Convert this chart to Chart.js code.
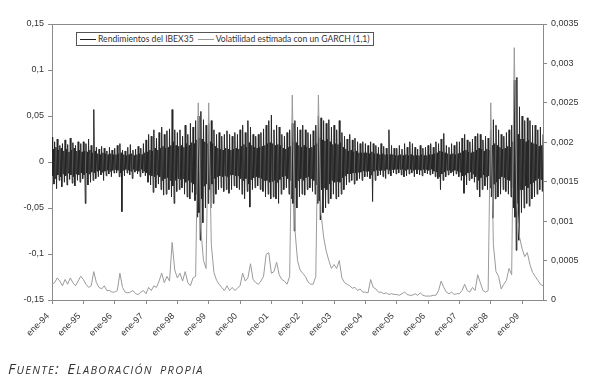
<!DOCTYPE html>
<html>
<head>
<meta charset="utf-8">
<script src="https://cdn.jsdelivr.net/npm/chart.js@4.4.0/dist/chart.umd.min.js"></script>
<style>
  body { margin: 0; background: #fff; }
  #wrap { position: relative; width: 600px; height: 384px; }
  #legend {
    position: absolute; left: 76px; top: 32px; height: 12px;
    border: 1px solid #555; background: #fff; padding: 0 3px 0 3px;
    font: 8.6px Lato, sans-serif; color: #333; line-height: 12px;
    display: flex; align-items: center; white-space: nowrap;
  }
  #legend .swatch { display: inline-block; width: 16px; height: 0; margin-right: 2px; }
  #footer {
    position: absolute; left: 8px; top: 358px;
    font: italic 15px 'Open Sans', sans-serif; font-variant: small-caps; color: #333;
    letter-spacing: 1.3px; word-spacing: 2px;
  }
</style>
</head>
<body>
<div id="wrap">
  <canvas id="chart"></canvas>
  <div id="legend">
    <span class="swatch" style="border-top:1px solid #222"></span>Rendimientos del IBEX35
    <span class="swatch" style="border-top:1px solid #999;margin-left:4px"></span>Volatilidad estimada con un GARCH (1,1)
  </div>
  <div id="footer">Fuente: Elaboración propia</div>
</div>
<script>
// one tick label per January, months counted from ene-94
const yearLabels = ['ene-94', 'ene-95', 'ene-96', 'ene-97', 'ene-98', 'ene-99', 'ene-00', 'ene-01',
    'ene-02', 'ene-03', 'ene-04', 'ene-05', 'ene-06', 'ene-07', 'ene-08', 'ene-09'];

// monthly largest positive return
const retHigh = [
    0.027, 0.022, 0.025, 0.018, 0.02, 0.024, 0.019, 0.026, 0.021, 0.018, 0.022, 0.02,
    0.022, 0.02, 0.025, 0.018, 0.057, 0.016, 0.014, 0.017, 0.015, 0.012, 0.016, 0.013,
    0.015, 0.018, 0.02, 0.013, 0.012, 0.016, 0.019, 0.013, 0.014, 0.017, 0.015, 0.02,
    0.024, 0.03, 0.028, 0.035, 0.026, 0.032, 0.038, 0.03, 0.034, 0.036, 0.057, 0.035,
    0.032, 0.035, 0.028, 0.04, 0.03, 0.042, 0.038, 0.045, 0.05, 0.055, 0.046, 0.04,
    0.042, 0.045, 0.035, 0.03, 0.032, 0.028, 0.03, 0.034, 0.03, 0.028, 0.032, 0.03,
    0.035, 0.04, 0.032, 0.045, 0.038, 0.03, 0.028, 0.03, 0.032, 0.036, 0.04, 0.045,
    0.051, 0.035, 0.04, 0.038, 0.03, 0.028, 0.032, 0.035, 0.042, 0.045, 0.038, 0.035,
    0.04, 0.035, 0.032, 0.03, 0.034, 0.04, 0.05, 0.048, 0.045, 0.042, 0.046, 0.038,
    0.04, 0.035, 0.045, 0.032, 0.028, 0.025, 0.03, 0.024, 0.026, 0.022, 0.02, 0.022,
    0.02, 0.018, 0.022, 0.02, 0.018, 0.016, 0.02, 0.017, 0.015, 0.035, 0.018, 0.015,
    0.015, 0.018, 0.014, 0.02, 0.016, 0.022, 0.02, 0.016, 0.014, 0.018, 0.015, 0.016,
    0.018, 0.02, 0.016, 0.022, 0.02, 0.025, 0.031, 0.018, 0.016, 0.02, 0.018, 0.022,
    0.022, 0.026, 0.03, 0.024, 0.022, 0.025, 0.028, 0.031, 0.03, 0.024, 0.028, 0.026,
    0.035, 0.046, 0.04, 0.035, 0.03, 0.028, 0.032, 0.035, 0.04, 0.089, 0.092, 0.06,
    0.05, 0.045, 0.048, 0.045, 0.04, 0.04, 0.035, 0.038, 0.03
];

// monthly largest negative return
const retLow = [
    -0.024, -0.029, -0.02, -0.027, -0.022, -0.025, -0.019, -0.023, -0.026, -0.02, -0.022, -0.018,
    -0.045, -0.025, -0.022, -0.02, -0.018, -0.016, -0.014, -0.02, -0.015, -0.013, -0.016, -0.012,
    -0.012, -0.016, -0.054, -0.015, -0.012, -0.014, -0.018, -0.011, -0.013, -0.016, -0.012, -0.015,
    -0.022, -0.025, -0.033, -0.028, -0.024, -0.03, -0.036, -0.035, -0.03, -0.038, -0.045, -0.032,
    -0.03, -0.028, -0.035, -0.038, -0.04, -0.033, -0.042, -0.06, -0.085, -0.066, -0.05, -0.045,
    -0.05, -0.045, -0.035, -0.03, -0.028, -0.032, -0.03, -0.034, -0.03, -0.026, -0.028, -0.03,
    -0.035, -0.04, -0.032, -0.049, -0.03, -0.028, -0.026, -0.03, -0.032, -0.038, -0.035, -0.04,
    -0.038, -0.04, -0.045, -0.035, -0.03, -0.028, -0.035, -0.04, -0.075, -0.05, -0.038, -0.035,
    -0.036, -0.03, -0.028, -0.032, -0.035, -0.045, -0.063, -0.055, -0.05, -0.045, -0.04, -0.035,
    -0.04, -0.038, -0.035, -0.03, -0.025, -0.022, -0.02, -0.024, -0.02, -0.018, -0.02, -0.016,
    -0.016, -0.018, -0.043, -0.02, -0.015, -0.014, -0.016, -0.018, -0.013, -0.015, -0.012, -0.013,
    -0.012, -0.014, -0.016, -0.015, -0.013, -0.012, -0.016, -0.013, -0.014, -0.015, -0.012, -0.013,
    -0.014, -0.013, -0.016, -0.018, -0.03, -0.02, -0.016, -0.014, -0.012, -0.015, -0.013, -0.016,
    -0.02, -0.034, -0.025, -0.02, -0.018, -0.022, -0.03, -0.038, -0.03, -0.026, -0.03, -0.028,
    -0.061, -0.04, -0.038, -0.035, -0.03, -0.032, -0.035, -0.038, -0.05, -0.096, -0.085, -0.055,
    -0.05, -0.045, -0.048, -0.04, -0.038, -0.035, -0.03, -0.032, -0.025
];

// monthly top edge of the dense dark band of returns
const coreUp = [
    0.014, 0.016, 0.013, 0.015, 0.012, 0.014, 0.011, 0.013, 0.015, 0.012, 0.013, 0.011,
    0.012, 0.011, 0.013, 0.01, 0.012, 0.009, 0.008, 0.01, 0.009, 0.008, 0.009, 0.008,
    0.008, 0.009, 0.01, 0.008, 0.007, 0.008, 0.009, 0.007, 0.008, 0.009, 0.008, 0.01,
    0.011, 0.013, 0.012, 0.015, 0.013, 0.015, 0.017, 0.015, 0.016, 0.018, 0.022, 0.018,
    0.017, 0.018, 0.016, 0.02, 0.018, 0.021, 0.02, 0.024, 0.026, 0.025, 0.022, 0.02,
    0.022, 0.02, 0.017, 0.015, 0.014, 0.013, 0.015, 0.014, 0.013, 0.014, 0.015, 0.014,
    0.017, 0.019, 0.016, 0.021, 0.018, 0.016, 0.015, 0.016, 0.017, 0.018, 0.02, 0.021,
    0.02, 0.018, 0.019, 0.018, 0.015, 0.014, 0.016, 0.017, 0.022, 0.021, 0.018, 0.016,
    0.018, 0.016, 0.015, 0.016, 0.018, 0.02, 0.026, 0.024, 0.023, 0.025, 0.022, 0.019,
    0.02, 0.019, 0.021, 0.016, 0.014, 0.012, 0.013, 0.011, 0.012, 0.01, 0.01, 0.01,
    0.01, 0.009, 0.011, 0.009, 0.009, 0.008, 0.009, 0.008, 0.008, 0.008, 0.008, 0.007,
    0.007, 0.008, 0.007, 0.008, 0.007, 0.008, 0.007, 0.007, 0.007, 0.008, 0.007, 0.007,
    0.008, 0.008, 0.009, 0.01, 0.012, 0.011, 0.01, 0.009, 0.008, 0.009, 0.008, 0.009,
    0.01, 0.012, 0.013, 0.011, 0.01, 0.011, 0.013, 0.015, 0.014, 0.012, 0.014, 0.013,
    0.018, 0.02, 0.018, 0.016, 0.014, 0.015, 0.017, 0.016, 0.022, 0.035, 0.03, 0.025,
    0.025, 0.022, 0.024, 0.021, 0.02, 0.019, 0.017, 0.018, 0.016
];

// monthly bottom edge of the dense dark band (as a positive depth)
const coreDown = [
    0.015, 0.018, 0.014, 0.016, 0.013, 0.015, 0.012, 0.014, 0.016, 0.013, 0.014, 0.012,
    0.014, 0.012, 0.013, 0.011, 0.012, 0.01, 0.009, 0.011, 0.01, 0.009, 0.01, 0.009,
    0.008, 0.009, 0.012, 0.009, 0.008, 0.009, 0.01, 0.008, 0.009, 0.01, 0.008, 0.01,
    0.012, 0.014, 0.015, 0.016, 0.014, 0.016, 0.02, 0.018, 0.017, 0.02, 0.026, 0.02,
    0.018, 0.019, 0.018, 0.022, 0.02, 0.022, 0.024, 0.035, 0.055, 0.04, 0.026, 0.024,
    0.03, 0.024, 0.018, 0.016, 0.015, 0.016, 0.015, 0.016, 0.014, 0.014, 0.015, 0.015,
    0.018, 0.02, 0.018, 0.024, 0.019, 0.017, 0.016, 0.017, 0.018, 0.02, 0.02, 0.022,
    0.021, 0.02, 0.022, 0.019, 0.016, 0.015, 0.018, 0.02, 0.045, 0.028, 0.02, 0.018,
    0.02, 0.017, 0.016, 0.018, 0.02, 0.025, 0.042, 0.03, 0.028, 0.03, 0.024, 0.02,
    0.022, 0.021, 0.022, 0.017, 0.015, 0.013, 0.013, 0.012, 0.012, 0.011, 0.011, 0.01,
    0.01, 0.01, 0.014, 0.01, 0.009, 0.009, 0.009, 0.009, 0.008, 0.009, 0.008, 0.008,
    0.008, 0.008, 0.008, 0.009, 0.008, 0.008, 0.009, 0.008, 0.008, 0.009, 0.008, 0.008,
    0.009, 0.008, 0.01, 0.011, 0.016, 0.013, 0.011, 0.009, 0.009, 0.01, 0.009, 0.01,
    0.011, 0.015, 0.014, 0.012, 0.011, 0.013, 0.016, 0.02, 0.017, 0.014, 0.016, 0.015,
    0.038, 0.024, 0.022, 0.018, 0.016, 0.017, 0.019, 0.02, 0.028, 0.06, 0.045, 0.03,
    0.03, 0.026, 0.028, 0.024, 0.022, 0.02, 0.018, 0.019, 0.017
];

// GARCH(1,1) conditional variance, monthly reading
const garchVol = [
    0.0002, 0.00022, 0.00028, 0.00024, 0.00018, 0.00026, 0.0002, 0.00028, 0.00022, 0.00018, 0.00024, 0.0003,
    0.00026, 0.0002, 0.00016, 0.00018, 0.00036, 0.00022, 0.00016, 0.00014, 0.00018, 0.00012, 0.00012, 0.0001,
    0.0001, 0.00012, 0.00034, 0.00016, 0.0001, 0.00009, 0.0001, 0.00012, 0.00008, 0.00007, 0.0001, 0.00012,
    0.00008, 0.00016, 0.00012, 0.00018, 0.00016, 0.00024, 0.00034, 0.00022, 0.0003, 0.00024, 0.00073, 0.00038,
    0.00028, 0.00034, 0.00024, 0.00036, 0.00022, 0.00018, 0.00028, 0.0003, 0.0025, 0.0009, 0.0005, 0.0004,
    0.0025, 0.0007, 0.00035, 0.00025, 0.0002, 0.00016, 0.00012, 0.00018, 0.00012, 0.00016, 0.00012, 0.00015,
    0.00018, 0.00034, 0.00024, 0.00028, 0.00046, 0.00026, 0.00022, 0.0002, 0.00024, 0.0003, 0.00058, 0.0006,
    0.00034, 0.00036, 0.00048, 0.00032, 0.00026, 0.00024, 0.0002, 0.0003, 0.0026, 0.0009, 0.0005, 0.00038,
    0.00034, 0.0003, 0.00023, 0.0002, 0.0002, 0.0003, 0.0026, 0.0011, 0.0008, 0.00062, 0.0005, 0.0004,
    0.00045, 0.0004, 0.0005, 0.00028, 0.00022, 0.0002, 0.00018, 0.00015, 0.00016, 0.00012, 0.00014, 0.0001,
    0.0001, 0.00009, 0.00026, 0.00016, 0.00014, 0.0001, 0.0001, 0.00008, 0.00009, 0.00007, 0.00008, 0.00007,
    0.00007, 0.00006, 0.00008, 0.0001, 0.00007, 0.00006, 0.00006, 0.00008, 0.00006, 0.00009, 0.00006, 0.00005,
    0.00005, 0.00005, 0.00006, 0.00006, 0.00012, 0.00024, 0.00016, 0.0001, 0.00008, 0.0001, 0.00007, 0.00008,
    0.00008, 0.00012, 0.0002, 0.00012, 0.0001, 0.00016, 0.00012, 0.00032, 0.00022, 0.00012, 0.0001, 0.00012,
    0.0025, 0.0007, 0.00036, 0.0003, 0.00014, 0.0002, 0.00025, 0.0004, 0.00032, 0.0032, 0.0012, 0.0008,
    0.00065, 0.00055, 0.0006, 0.00045, 0.00035, 0.0003, 0.00025, 0.0002, 0.00018
];

const lastMonth = garchVol.length - 1;
const yearTicks = yearLabels.map((_, i) => i * 12);

// each month: spike up, band bottom, band top, spike down
const returnPoints = [];
retHigh.forEach((hi, m) => {
    returnPoints.push({ x: m, y: hi });
    returnPoints.push({ x: m + 0.25, y: -coreDown[m] });
    returnPoints.push({ x: m + 0.5, y: coreUp[m] });
    returnPoints.push({ x: m + 0.75, y: retLow[m] });
});
const volPoints = garchVol.map((v, m) => ({ x: m, y: v }));

const comma = (v, digits) => {
    const r = Math.round(v * Math.pow(10, digits)) / Math.pow(10, digits);
    return String(r).replace('.', ',');
};

const tickFont = { family: "'Liberation Sans', Arial, sans-serif", size: 9 };

const framePlugin = {
    id: 'frame',
    afterDraw(chart) {
        const { ctx, chartArea } = chart;
        ctx.save();
        ctx.strokeStyle = '#8a8a8a';
        ctx.lineWidth = 1;
        ctx.beginPath();
        ctx.moveTo(chartArea.left, Math.round(chartArea.top) + 0.5);
        ctx.lineTo(chartArea.right, Math.round(chartArea.top) + 0.5);
        ctx.stroke();
        ctx.restore();
    }
};

new Chart(document.getElementById('chart'), {
    type: 'line',
    data: {
        datasets: [
            {
                label: 'Volatilidad estimada con un GARCH (1,1)',
                data: volPoints,
                yAxisID: 'y2',
                borderColor: '#9a9a9a',
                borderWidth: 1,
                pointRadius: 0,
                tension: 0,
                order: 0
            },
            {
                label: 'Rendimientos del IBEX35',
                data: returnPoints,
                yAxisID: 'y',
                borderColor: '#262626',
                borderWidth: 1,
                pointRadius: 0,
                tension: 0,
                order: 1
            }
        ]
    },
    options: {
        responsive: true,
        maintainAspectRatio: false,
        animation: false,
        layout: { padding: { top: 24 } },
        plugins: {
            legend: { display: false },
            tooltip: { enabled: false }
        },
        scales: {
            x: {
                type: 'linear',
                min: 0,
                max: lastMonth,
                afterBuildTicks: (scale) => { scale.ticks = yearTicks.map(v => ({ value: v })); },
                afterFit: (scale) => { scale.height = 84; },
                ticks: {
                    callback: (v) => yearLabels[Math.round(v / 12)],
                    minRotation: 45,
                    maxRotation: 45,
                    font: tickFont,
                    color: '#333',
                    padding: 7,
                    labelOffset: -4
                },
                grid: { drawOnChartArea: false, tickLength: 4, color: '#8a8a8a' },
                border: { color: '#8a8a8a' }
            },
            y: {
                position: 'left',
                min: -0.15,
                max: 0.15,
                afterFit: (scale) => { scale.width = 52; },
                ticks: {
                    stepSize: 0.05,
                    callback: (v) => comma(v, 2),
                    font: tickFont,
                    color: '#333',
                    padding: 4
                },
                grid: { drawOnChartArea: false, tickLength: 4, color: '#8a8a8a' },
                border: { color: '#8a8a8a' }
            },
            y2: {
                position: 'right',
                min: 0,
                max: 0.0035,
                afterFit: (scale) => { scale.width = 57; },
                ticks: {
                    stepSize: 0.0005,
                    callback: (v) => comma(v, 4),
                    font: tickFont,
                    color: '#333',
                    padding: 4
                },
                grid: { drawOnChartArea: false, tickLength: 4, color: '#8a8a8a' },
                border: { color: '#8a8a8a' }
            }
        }
    },
    plugins: [framePlugin]
});
</script>
</body>
</html>
